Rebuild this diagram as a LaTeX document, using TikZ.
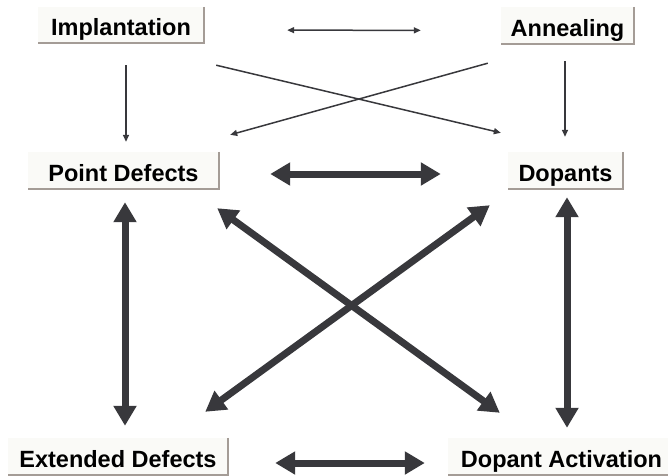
\documentclass[tikz,border=0pt]{standalone}
\usepackage{fontspec}
\setmainfont{Liberation Sans}
\usetikzlibrary{arrows.meta}
\definecolor{arrowc}{HTML}{38383C}
\definecolor{boxfill}{HTML}{FAFAF7}
\definecolor{shadowc}{HTML}{A49C96}
\tikzset{
  stage/.style={fill=boxfill, inner sep=0pt, minimum height=37pt,
    text height=22pt, text depth=0pt,
    font=\fontsize{23.5}{28}\selectfont\bfseries},
  edgeshade/.style={draw=shadowc, line width=1.8pt},
  thinlink/.style={draw=arrowc, line width=1.5pt,
    -{Triangle[length=7pt,width=6pt]}},
  thinboth/.style={thinlink, {Triangle[length=7pt,width=6pt]}-{Triangle[length=7pt,width=6pt]}},
  thicklink/.style={draw=arrowc, line width=7pt,
    {Triangle[length=20pt,width=22pt]}-{Triangle[length=20pt,width=22pt]}}
}
\begin{document}
\begin{tikzpicture}[x=1pt,y=1pt]
\useasboundingbox (0,0) rectangle (668,475);

% process stages
\node[stage, minimum width=166pt, minimum height=36pt] (imp) at (121,450) {Implantation};
\node[stage, minimum width=133pt] (ann) at (567.5,449.5) {Annealing};
\node[stage, minimum width=191pt] (pd)  at (123.5,304.5) {Point Defects};
\node[stage, minimum width=115pt] (dop) at (565.5,304.5) {Dopants};
\node[stage, minimum width=220pt] (ext) at (118,18.5) {Extended Defects};
\node[stage, minimum width=227pt] (act) at (561.5,18.5) {Dopant Activation};

% shading along right and bottom edges
\foreach \n in {imp,ann,pd,dop,ext,act}
  \draw[edgeshade] (\n.north east) -- (\n.south east) -- (\n.south west);

% thin links between the process steps
\draw[thinboth, shorten <=83pt, shorten >=80pt]
  ([yshift=-5pt]imp.east) -- ([yshift=-5pt]ann.west);
\draw[thinlink, shorten <=22pt, shorten >=10pt]
  ([xshift=5pt]imp.south) -- ([xshift=2.5pt]pd.north);
\draw[thinlink, shorten <=17pt, shorten >=15pt]
  ([xshift=-2.5pt]ann.south) -- ([xshift=-0.5pt]dop.north);
\draw[thinlink]
  ([shift={(12pt,-22pt)}]imp.south east) -- ([shift={(-7pt,19pt)}]dop.north west);
\draw[thinlink]
  ([shift={(-13pt,-19pt)}]ann.south west) -- ([shift={(11pt,17pt)}]pd.north east);

% thick mutual interactions
\draw[thicklink, shorten <=51pt, shorten >=67pt]
  ([yshift=-3.5pt]pd.east) -- ([yshift=-3.5pt]dop.west);
\draw[thicklink, shorten <=13pt, shorten >=12pt]
  ([xshift=1.5pt]pd.south) -- ([xshift=7pt]ext.north);
\draw[thicklink, shorten <=8pt, shorten >=10pt]
  ([xshift=1.5pt]dop.south) -- ([xshift=5.5pt]act.north);
\draw[thicklink]
  ([shift={(-2pt,-19pt)}]pd.south east) -- ([shift={(52pt,25pt)}]act.north west);
\draw[thicklink]
  ([shift={(-23pt,26pt)}]ext.north east) -- ([shift={(-18pt,-16pt)}]dop.south west);
\draw[thicklink, shorten <=47pt, shorten >=23pt]
  ([yshift=-6.5pt]ext.east) -- ([yshift=-6.5pt]act.west);
\end{tikzpicture}
\end{document}
